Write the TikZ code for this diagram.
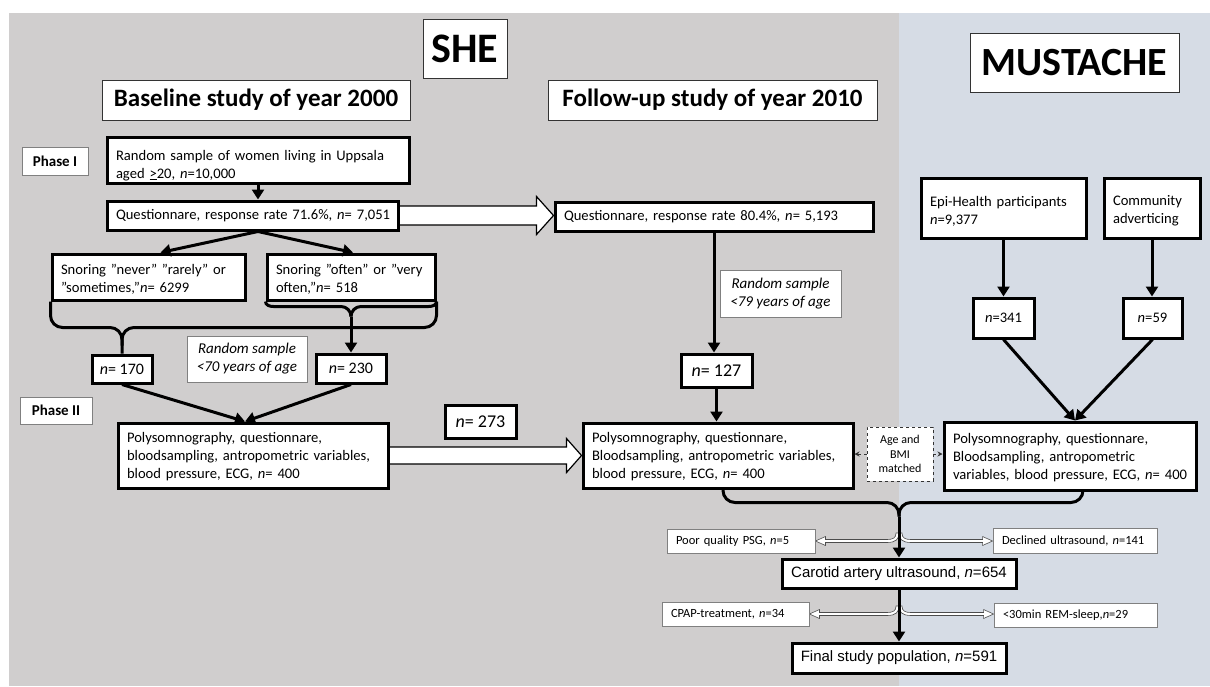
\documentclass[tikz,border=0pt]{standalone}
\usepackage{fontspec}
\setmainfont{Carlito}
\newfontfamily\arialf{Liberation Sans}
\usetikzlibrary{arrows.meta,calc}
\definecolor{bggray}{HTML}{D0CECE}
\definecolor{bgblue}{HTML}{D6DCE5}
\pgfdeclarelayer{bg}
\pgfsetlayers{bg,main}
\newcommand\bx[7]{%
  \pgfmathsetmacro\bxcx{(#3+#5)/2}%
  \pgfmathsetmacro\bxcy{(#4+#6)/2}%
  \pgfmathsetmacro\bxw{#5-#3}%
  \pgfmathsetmacro\bxh{#6-#4}%
  \pgfmathsetmacro\bxtw{#5-#3-18}%
  \node[inner xsep=9pt, inner ysep=1pt, align=left, minimum width=\bxw pt, minimum height=\bxh pt, text width=\bxtw pt, #2] (#1) at (\bxcx,\bxcy) {#7};}
\newcommand\cbx[7]{%
  \pgfmathsetmacro\bxcx{(#3+#5)/2}%
  \pgfmathsetmacro\bxcy{(#4+#6)/2}%
  \pgfmathsetmacro\bxw{#5-#3}%
  \pgfmathsetmacro\bxh{#6-#4}%
  \node[inner sep=1pt, align=center, minimum width=\bxw pt, minimum height=\bxh pt, #2] (#1) at (\bxcx,\bxcy) {#7};}
% a strut at the start of a box's first line that lowers its text
\newcommand\txtdown[1]{\rule{0pt}{#1}}
% big hollow arrow: #1 start anchor, #2 end anchor, #3 shaft half height, #4 head half height, #5 head length
\newcommand\bigarr[5]{%
  \draw[big arrow] ($(#1)+(0,-#3)$) -- ($(#2 |- #1)+(-#5,-#3)$) -- ($(#2 |- #1)+(-#5,-#4)$) -- (#2 |- #1) -- ($(#2 |- #1)+(-#5,#4)$) -- ($(#2 |- #1)+(-#5,#3)$) -- ($(#1)+(0,#3)$);}
% thin hollow arrows from a junction on a vertical line
\newcommand\harrL[2]{%
  \draw[hollow] ($(#1)+(-3,-8)$) .. controls ($(#1)+(-3,-3)$) and ($(#1)+(-6,-1.5)$) .. ($(#1)+(-12,-1.5)$) -- ($(#2 |- #1)+(10,-1.5)$) -- ($(#2 |- #1)+(10,-4.5)$) -- (#2 |- #1) -- ($(#2 |- #1)+(10,4.5)$) -- ($(#2 |- #1)+(10,1.5)$) -- ($(#1)+(-12,1.5)$) .. controls ($(#1)+(-3,1.5)$) and ($(#1)+(0,-2)$) .. ($(#1)+(0,-8)$) -- cycle;}
\newcommand\harrR[2]{%
  \draw[hollow] ($(#1)+(3,-8)$) .. controls ($(#1)+(3,-3)$) and ($(#1)+(6,-1.5)$) .. ($(#1)+(12,-1.5)$) -- ($(#2 |- #1)+(-10,-1.5)$) -- ($(#2 |- #1)+(-10,-4.5)$) -- (#2 |- #1) -- ($(#2 |- #1)+(-10,4.5)$) -- ($(#2 |- #1)+(-10,1.5)$) -- ($(#1)+(12,1.5)$) .. controls ($(#1)+(3,1.5)$) and ($(#1)+(0,-2)$) .. ($(#1)+(0,-8)$) -- cycle;}
\tikzset{
  thick box/.style={draw=black, line width=3pt, fill=white, font=\fontsize{14.6}{18}\selectfont},
  thin box/.style={draw=black!50, line width=0.9pt, fill=white},
  head box/.style={draw=black!80, line width=0.9pt, fill=white, font=\bfseries\fontsize{25}{30}\selectfont},
  note box/.style={thin box, font=\itshape\fontsize{15}{18}\selectfont},
  excl box/.style={thin box, font=\fontsize{12.5}{15}\selectfont},
  age box/.style={draw=black!80, dashed, line width=0.9pt, fill=white, font=\fontsize{12}{14.5}\selectfont},
  arr/.style={line width=3pt, -{Triangle[length=10pt,width=12pt]}},
  brace line/.style={line width=3pt, rounded corners=12pt},
  big arrow/.style={draw=black, line width=1.2pt, fill=white},
  hollow/.style={draw=black!70, line width=0.6pt, fill=white},
  dash arr/.style={draw=black!80, dashed, line width=1pt, -{Stealth[length=5pt,width=5pt]}},
}
\begin{document}
\begin{tikzpicture}[x=1pt,y=-1pt]
\useasboundingbox (0,0) rectangle (1210,686);
\begin{pgfonlayer}{bg}
  \fill[bggray] (9,13) rectangle (899,686);
  \fill[bgblue] (899,13) rectangle (1210,686);
\end{pgfonlayer}

% headings
\cbx{she}{head box, font=\bfseries\fontsize{42}{48}\selectfont}{423}{19}{507}{78}{SHE}
\cbx{must}{head box, font=\bfseries\fontsize{40}{46}\selectfont}{970}{33}{1179}{92}{MUSTACHE}
\cbx{base}{head box}{102}{80}{410}{120}{Baseline study of year 2000}
\cbx{foll}{head box}{548}{80}{877}{120}{Follow-up study of year 2010}
\cbx{ph1}{thin box, font=\bfseries\fontsize{15}{18}\selectfont}{22}{147}{88}{175}{Phase I}
\cbx{ph2}{thin box, font=\bfseries\fontsize{15}{18}\selectfont}{20}{397}{92}{424}{Phase II}

% baseline study
\bx{rs}{thick box}{107}{137}{409}{183}{\txtdown{21pt}\mbox{Random sample of women living in Uppsala}\\\mbox{aged \underline{>}20, \textit{n}=10,000}}
\bx{q1}{thick box}{107}{201}{398}{230}{\mbox{Questionnare, response rate 71.6\%, \textit{n}= 7,051}}
\bx{snL}{thick box}{52}{254}{245}{300}{\txtdown{15pt}\mbox{Snoring ”never” ”rarely” or}\\\mbox{”sometimes,”\textit{n}= 6299}}
\bx{snR}{thick box}{267}{254}{435}{300}{\txtdown{15pt}\mbox{Snoring ”often” or ”very}\\\mbox{often,”\textit{n}= 518}}
\cbx{n170}{thick box, font=\fontsize{16}{19}\selectfont}{92}{355}{152}{383}{\textit{n}= 170}
\cbx{rs70}{note box}{187}{336}{307}{382}{Random sample\\<70 years of age}
\cbx{n230}{thick box, font=\fontsize{16}{19}\selectfont}{316}{354}{386}{383}{\textit{n}= 230}
\bx{psgL}{thick box}{118}{423}{388}{488}{\txtdown{13pt}\mbox{Polysomnography, questionnare,}\\\mbox{bloodsampling, antropometric variables,}\\\mbox{blood pressure, ECG, \textit{n}= 400}}
\cbx{n273}{thick box, font=\fontsize{18}{21}\selectfont}{445}{405}{516}{438}{\textit{n}= 273}

% follow-up study
\bx{q2}{thick box}{555}{202}{873}{231}{\mbox{Questionnare, response rate 80.4\%, \textit{n}= 5,193}}
\cbx{rs79}{note box}{720}{270}{841}{317}{Random sample\\<79 years of age}
\cbx{n127}{thick box, font=\fontsize{18}{21}\selectfont}{681}{354}{752}{387}{\textit{n}= 127}
\bx{psgM}{thick box}{583}{423}{853}{488}{\txtdown{13pt}\mbox{Polysomnography, questionnare,}\\\mbox{Bloodsampling, antropometric variables,}\\\mbox{blood pressure, ECG, \textit{n}= 400}}
\cbx{age}{age box}{867}{427}{933}{481}{Age and\\BMI\\matched}

% MUSTACHE
\bx{epi}{thick box}{921}{178}{1086}{238}{\txtdown{16pt}\mbox{Epi-Health participants}\\\mbox{\textit{n}=9,377}}
\bx{comm}{thick box}{1104}{178}{1200}{238}{\txtdown{16pt}\mbox{Community}\\\mbox{adverticing}}
\cbx{n341}{thick box}{973}{298}{1034}{338}{\textit{n}=341}
\cbx{n59}{thick box}{1123}{298}{1182}{338}{\textit{n}=59}
\bx{psgR}{thick box}{944}{422}{1196}{490}{\txtdown{13pt}\mbox{Polysomnography, questionnare,}\\\mbox{Bloodsampling, antropometric}\\\mbox{variables, blood pressure, ECG, \textit{n}= 400}}

% final part
\bx{poor}{excl box}{667}{529}{815}{553}{\mbox{Poor quality PSG, \textit{n}=5}}
\bx{decl}{excl box}{993}{528}{1157}{553}{\mbox{Declined ultrasound, \textit{n}=141}}
\cbx{carotid}{thick box, font=\arialf\fontsize{15}{18}\selectfont}{782}{559}{1016}{588}{Carotid artery ultrasound, \textit{n}=654}
\bx{cpap}{excl box}{662}{602}{809}{626}{\mbox{CPAP-treatment, \textit{n}=34}}
\bx{rem}{excl box}{994}{603}{1157}{627}{\mbox{<30min REM-sleep,\textit{n}=29}}
\cbx{final}{thick box, font=\arialf\fontsize{15}{18}\selectfont}{792}{643}{1006}{673}{Final study population, \textit{n}=591}

% coordinates
\coordinate (qs) at (rs.south |- q1.south);
\coordinate (bA) at ($(n170.north)+(0,-8)$);
\coordinate (bB) at ($(n230.north |- snR.south)+(0,5)$);
\coordinate (t1) at ($(psgL.north)+(-8,0)$);
\coordinate (t2) at ($(psgR.north)+(5,0)$);
\coordinate (m0) at ($(carotid.north)+(0,-41)$);
\coordinate (j1) at (m0 |- poor.east);
\coordinate (j2) at (carotid.south |- cpap.east);

% big hollow arrows and thin hollow arrows behind the boxes
\begin{pgfonlayer}{bg}
  \bigarr{q1.east}{q2.west}{9.5}{19}{17}
  \bigarr{psgL.east}{psgM.west}{8.5}{17}{15}
  \harrL{j1}{poor.east}
  \harrR{j1}{decl.west}
  \harrL{j2}{cpap.east}
  \harrR{j2}{rem.west}
\end{pgfonlayer}

% connectors
\draw[arr] (rs.south) -- (rs.south |- q1.north);
\draw[arr] (qs) -- ($(snL.north)+(12,0)$);
\draw[arr] (qs) -- ($(snR.north)+(2,0)$);
\draw[brace line] (snL.south west) |- ($(bA)+(0,-18)$) -- (n170.north);
\draw[brace line] (snR.south east) |- ($(bA)+(0,-18)$) -- (bA);
\draw[line width=3pt] (snR.south west) to[out=-90,in=180] ($(snR.south west)+(8,5)$) -- ($(bB)+(-10,0)$) to[out=0,in=90] ($(bB)+(0,10)$);
\draw[line width=3pt] (snR.south east) to[out=-90,in=0] ($(snR.south east)+(-8,5)$) -- ($(bB)+(10,0)$) to[out=180,in=90] ($(bB)+(0,10)$);
\draw[arr] ($(bB)+(0,10)$) -- (n230.north);
\draw[arr] (n170.south) -- (t1);
\draw[arr] (n230.south) -- (t1);
\draw[arr] (q2.south) -- (q2.south |- n127.north);
\draw[arr] (n127.south) -- (n127.south |- psgM.north);
\draw[arr] (epi.south) -- (epi.south |- n341.north);
\draw[arr] (comm.south) -- (comm.south |- n59.north);
\draw[arr] (n341.south) -- (t2);
\draw[arr] (n59.south) -- (t2);
\draw[dash arr] (age.west) -- (age.west -| psgM.east);
\draw[dash arr] (age.east) -- (age.east -| psgR.west);
\draw[brace line] ($(psgM.south)+(5,0)$) |- ($(m0)+(0,-14)$) -- (m0);
\draw[brace line] ($(psgR.south)+(13,0)$) |- ($(m0)+(0,-14)$) -- (m0);
\draw[arr] (m0) -- (carotid.north);
\draw[arr] (carotid.south) -- (final.north);
\end{tikzpicture}
\end{document}
